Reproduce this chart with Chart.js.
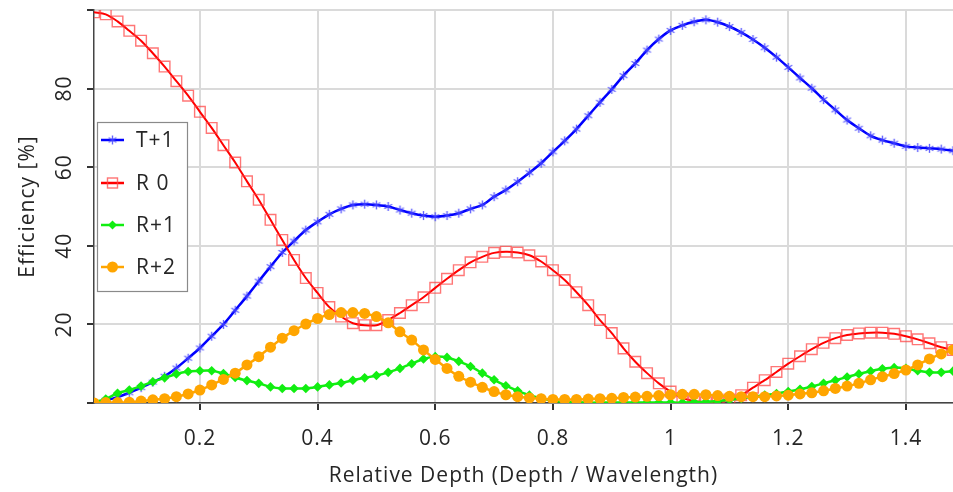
<!DOCTYPE html>
<html>
<head>
<meta charset="utf-8">
<script src="https://cdn.jsdelivr.net/npm/chart.js@4.4.1/dist/chart.umd.min.js"></script>
<style>
  html, body { margin: 0; padding: 0; background: #fff; }
  #wrap { width: 953px; height: 492px; }
</style>
</head>
<body>
<div id="wrap"><canvas id="effChart" width="953" height="492"></canvas></div>
<script>
// relative depth (depth / wavelength)
const depth = [
  0.02, 0.04, 0.06, 0.08, 0.10, 0.12, 0.14, 0.16, 0.18, 0.20,
  0.22, 0.24, 0.26, 0.28, 0.30, 0.32, 0.34, 0.36, 0.38, 0.40,
  0.42, 0.44, 0.46, 0.48, 0.50, 0.52, 0.54, 0.56, 0.58, 0.60,
  0.62, 0.64, 0.66, 0.68, 0.70, 0.72, 0.74, 0.76, 0.78, 0.80,
  0.82, 0.84, 0.86, 0.88, 0.90, 0.92, 0.94, 0.96, 0.98, 1.00,
  1.02, 1.04, 1.06, 1.08, 1.10, 1.12, 1.14, 1.16, 1.18, 1.20,
  1.22, 1.24, 1.26, 1.28, 1.30, 1.32, 1.34, 1.36, 1.38, 1.40,
  1.42, 1.44, 1.46, 1.48
];

// efficiencies [%]
const tPlus1 = [
  0.2, 0.7, 1.5, 2.6, 3.9, 5.3, 6.8, 8.9, 11.4, 14.0,
  17.0, 20.0, 23.6, 27.2, 31.0, 34.7, 38.3, 41.2, 44.0, 46.1,
  48.0, 49.4, 50.4, 50.6, 50.4, 50.0, 49.1, 48.3, 47.7, 47.4,
  47.7, 48.3, 49.4, 50.4, 52.5, 54.2, 56.3, 58.6, 61.0, 63.9,
  66.7, 69.7, 73.1, 76.5, 79.8, 83.3, 86.4, 89.8, 92.6, 94.8,
  96.1, 97.0, 97.5, 96.9, 95.8, 94.3, 92.5, 90.4, 88.0, 85.4,
  82.7, 80.1, 77.2, 74.6, 72.0, 69.9, 68.0, 66.9, 66.1, 65.3,
  65.0, 64.8, 64.6, 64.2
];
const r0 = [
  99.4, 98.9, 97.1, 94.7, 92.2, 89.0, 85.6, 81.9, 78.2, 74.1,
  70.0, 65.6, 61.2, 56.4, 51.7, 46.6, 41.5, 36.4, 31.8, 28.0,
  24.4, 22.0, 20.3, 19.8, 19.8, 21.1, 22.9, 24.9, 26.9, 29.3,
  31.6, 33.8, 35.8, 37.2, 38.2, 38.5, 38.3, 37.6, 36.0, 33.8,
  31.3, 28.2, 24.9, 21.1, 17.8, 13.9, 10.5, 7.6, 5.0, 2.9,
  1.3, 0.5, 0.2, 0.3, 0.9, 2.0, 3.9, 5.8, 7.9, 10.0,
  11.9, 13.7, 15.3, 16.5, 17.3, 17.7, 17.9, 17.9, 17.6, 17.0,
  16.2, 15.2, 14.2, 13.5
];
const r1 = [
  0.2, 1.0, 2.5, 3.3, 4.3, 5.4, 6.4, 7.4, 8.0, 8.2,
  8.2, 7.5, 6.5, 5.7, 5.0, 4.1, 3.7, 3.7, 3.7, 4.1,
  4.6, 5.1, 5.8, 6.4, 7.0, 7.8, 8.8, 10.0, 11.2, 11.8,
  11.6, 10.6, 9.3, 7.6, 5.9, 4.4, 3.1, 2.0, 1.2, 0.6,
  0.3, 0.2, 0.1, 0.1, 0.1, 0.1, 0.1, 0.1, 0.1, 0.1,
  0.1, 0.2, 0.3, 0.5, 0.8, 1.2, 1.6, 2.0, 2.4, 2.9,
  3.5, 4.2, 5.0, 5.8, 6.6, 7.4, 8.1, 8.7, 9.0, 8.8,
  8.2, 7.8, 7.8, 8.1
];
const r2 = [
  0.0, 0.1, 0.1, 0.2, 0.5, 0.8, 1.1, 1.6, 2.3, 3.3,
  4.6, 6.0, 7.6, 9.7, 11.8, 14.2, 16.5, 18.4, 20.1, 21.5,
  22.5, 23.0, 23.0, 22.8, 22.0, 20.4, 18.1, 16.0, 13.5, 11.1,
  8.8, 6.8, 5.3, 4.0, 2.9, 2.1, 1.6, 1.3, 1.1, 0.9,
  0.9, 0.9, 1.0, 1.1, 1.2, 1.4, 1.5, 1.7, 1.9, 2.1,
  2.2, 2.2, 2.1, 1.9, 1.7, 1.6, 1.6, 1.6, 1.8, 2.0,
  2.3, 2.6, 3.1, 3.7, 4.3, 5.0, 5.9, 6.7, 7.5, 8.4,
  9.7, 11.2, 12.5, 13.5
];

const seriesNames = ["T+1", "R 0", "R+1", "R+2"];
const yTickLabels = [20, 40, 60, 80];

const FONT = "'Open Sans', 'Noto Sans', sans-serif";
const FSIZE = 21;
const TEXT = "#262626";

// asterisk marker for T+1
function makeAsterisk(color, size) {
  const c = document.createElement('canvas');
  c.width = size; c.height = size;
  const g = c.getContext('2d');
  g.strokeStyle = color;
  g.lineWidth = 1.4;
  const m = size / 2, r = size / 2 - 1;
  g.beginPath();
  for (let k = 0; k < 3; k++) {
    const a = Math.PI / 2 + k * Math.PI / 3;
    g.moveTo(m + r * Math.cos(a), m + r * Math.sin(a));
    g.lineTo(m - r * Math.cos(a), m - r * Math.sin(a));
  }
  g.stroke();
  return c;
}
const starImg = makeAsterisk('rgba(70,70,255,0.85)', 11);

const pts = arr => depth.map((d, i) => ({ x: d, y: arr[i] }));

// a bit of letter spacing to get closer to the original text widths
const spacing = {
  id: 'spacing',
  beforeDraw(chart) {
    if ('letterSpacing' in chart.ctx) chart.ctx.letterSpacing = '1px';
  }
};

// legend box + rotated y tick labels
const extras = {
  id: 'extras',
  afterDraw(chart) {
    const ctx = chart.ctx;
    const ys = chart.scales.y;
    ctx.save();
    ctx.fillStyle = TEXT;
    ctx.font = FSIZE + "px " + FONT;
    ctx.textAlign = 'center';
    ctx.textBaseline = 'middle';
    yTickLabels.forEach(v => {
      ctx.save();
      ctx.translate(65, ys.getPixelForValue(v));
      ctx.rotate(-Math.PI / 2);
      ctx.fillText(String(v), 0, 0);
      ctx.restore();
    });

    // legend
    const bx = 97, by = 122, bw = 90, bh = 169;
    ctx.fillStyle = '#ffffff';
    ctx.fillRect(bx, by, bw, bh);
    ctx.strokeStyle = '#8a8a8a';
    ctx.lineWidth = 1.2;
    ctx.strokeRect(bx + 0.5, by + 0.5, bw, bh);
    const rowY = [140, 183, 225, 267];
    chart.data.datasets.forEach((ds, i) => {
      const y = rowY[i];
      ctx.strokeStyle = ds.borderColor;
      ctx.lineWidth = 2.5;
      ctx.beginPath();
      ctx.moveTo(101, y); ctx.lineTo(124, y);
      ctx.stroke();
      const mx = 112.5;
      if (i === 0) {
        ctx.drawImage(starImg, mx - 5.5, y - 5.5);
      } else if (i === 1) {
        ctx.strokeStyle = 'rgba(255,70,70,0.75)';
        ctx.lineWidth = 1.4;
        ctx.strokeRect(mx - 5, y - 5, 10, 10);
      } else if (i === 2) {
        ctx.fillStyle = ds.pointBackgroundColor;
        ctx.beginPath();
        ctx.moveTo(mx, y - 4.5); ctx.lineTo(mx + 4.5, y); ctx.lineTo(mx, y + 4.5); ctx.lineTo(mx - 4.5, y);
        ctx.closePath(); ctx.fill();
      } else {
        ctx.fillStyle = ds.pointBackgroundColor;
        ctx.beginPath();
        ctx.arc(mx, y, 5.5, 0, Math.PI * 2);
        ctx.fill();
      }
      ctx.fillStyle = TEXT;
      ctx.textAlign = 'left';
      ctx.font = FSIZE + "px " + FONT;
      ctx.fillText(seriesNames[i], 136, y + 1);
    });
    ctx.restore();
  }
};

new Chart(document.getElementById('effChart'), {
  type: 'line',
  data: {
    datasets: [
      {
        label: seriesNames[0],
        data: pts(tPlus1),
        borderColor: '#0000ff',
        borderWidth: 2.5,
        pointStyle: starImg,
        pointRadius: 5,
        tension: 0.3,
        order: 3
      },
      {
        label: seriesNames[1],
        data: pts(r0),
        borderColor: '#ff0000',
        borderWidth: 2,
        pointStyle: 'rect',
        pointRadius: 7.5,
        pointBorderColor: 'rgba(255,60,60,0.7)',
        pointBackgroundColor: 'rgba(255,255,255,0)',
        pointBorderWidth: 1.4,
        tension: 0.3,
        order: 2
      },
      {
        label: seriesNames[2],
        data: pts(r1),
        borderColor: '#11ee11',
        borderWidth: 2.5,
        pointStyle: 'rectRot',
        pointRadius: 4.8,
        pointBorderWidth: 0,
        pointBackgroundColor: '#11ee11',
        pointBorderColor: '#11ee11',
        tension: 0.3,
        order: 1
      },
      {
        label: seriesNames[3],
        data: pts(r2),
        borderColor: '#ffa500',
        borderWidth: 2.5,
        pointStyle: 'circle',
        pointRadius: 5.5,
        pointBorderWidth: 0,
        pointBackgroundColor: '#ffa500',
        pointBorderColor: '#ffa500',
        tension: 0.3,
        order: 0
      }
    ]
  },
  options: {
    responsive: false,
    animation: false,
    devicePixelRatio: 1,
    layout: { autoPadding: false, padding: { left: 0, top: 10, right: 0, bottom: 0 } },
    plugins: {
      legend: { display: false },
      tooltip: { enabled: false },
      title: { display: false }
    },
    scales: {
      x: {
        type: 'linear',
        min: 0.02,
        max: 1.48,
        afterFit(scale) { scale.height = 89; },
        border: { display: true, color: '#444444', width: 1.5 },
        grid: { color: '#dadada', lineWidth: 2, tickColor: '#333333', tickLength: 7, tickWidth: 2 },
        ticks: {
          stepSize: 0.2,
          includeBounds: false,
          padding: 16,
          color: TEXT,
          font: { family: FONT, size: FSIZE },
          maxRotation: 0,
          callback: v => String(Number(v.toFixed(1)))
        },
        title: {
          display: true,
          text: 'Relative Depth (Depth / Wavelength)',
          color: TEXT,
          font: { family: FONT, size: FSIZE },
          padding: { top: 0, bottom: 3 }
        }
      },
      y: {
        min: 0,
        max: 100,
        afterFit(scale) { scale.width = 94; },
        border: { display: true, color: '#444444', width: 1.5 },
        grid: { color: '#dadada', lineWidth: 2, tickColor: '#333333', tickLength: 7, tickWidth: 2 },
        ticks: { stepSize: 20, display: false },
        title: {
          display: true,
          text: 'Efficiency [%]',
          color: TEXT,
          font: { family: FONT, size: FSIZE },
          padding: { top: 15, bottom: 0 }
        }
      }
    }
  },
  plugins: [spacing, extras]
});
</script>
</body>
</html>
